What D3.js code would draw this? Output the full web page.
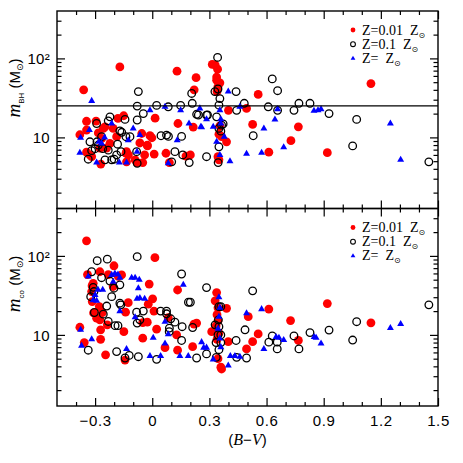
<!DOCTYPE html>
<html><head><meta charset="utf-8">
<script src="https://cdn.jsdelivr.net/npm/d3@7"></script>
<style>body{margin:0;background:#fff}svg{display:block}</style>
</head><body>
<svg id="c" width="463" height="463"></svg>
<script>
// ---- tick values ----
const xMajorTicks = [-0.3, 0, 0.3, 0.6, 0.9, 1.2, 1.5];
const xMinorTicks = [-0.4, -0.2, -0.1, 0.1, 0.2, 0.4, 0.5, 0.7, 0.8, 1.0, 1.1, 1.3, 1.4];
const yMajorTicks = [10, 100];
const yMinorTicks = [2, 3, 4, 5, 6, 7, 8, 9, 20, 30, 40, 50, 60, 70, 80, 90, 200, 300];
const bhLimit = 25;
const legendLabels = ["Z=0.01\u00a0\u00a0Z", "Z=0.1\u00a0\u00a0Z", "Z=\u00a0\u00a0Z"];

// ---- top panel: m_BH vs (B-V) ----  [B-V, mass]
const topZ001 = [[-0.36,40],[-0.17,78],[0.13,69],[0.23,57],[0.22,40],[0.315,84],[0.33,83],[0.343,73],[0.338,58],[0.355,49],[0.338,53],[0.345,44],[0.34,38],[0.40,22],[-0.345,16],[-0.38,10.8],[-0.15,18.8],[-0.18,17.4],[0.015,17.5],[0.135,15],[0.215,13.5],[-0.012,10.5],[-0.002,9.9],[-0.065,8.5],[-0.025,7.8],[0.01,6.15],[0.072,6.3],[0.09,4.8],[0.177,5.8],[0.2,6],[-0.05,4.8],[-0.138,6.3],[-0.125,6],[-0.27,4.6],[0.39,8.8],[0.364,10.2],[0.355,14],[0.345,5.7],[0.35,5.2],[-0.345,12.4],[-0.295,16.1],[-0.257,13],[-0.265,9.7],[-0.318,5.7],[-0.345,6.5],[-0.205,13],[-0.135,6.6],[-0.135,4.9],[-0.026,8],[-0.04,6],[-0.09,5.2],[-0.055,11.2],[-0.24,7.3],[-0.283,11.4],[-0.248,13.6],[-0.275,7.3],[-0.327,6],[-0.222,8.4],[-0.08,4.8],[-0.187,10.2],[0.495,23.3],[0.556,35],[0.527,14.6],[0.612,6.5],[0.728,9.1],[0.767,13.6],[0.919,6.4],[1.148,48],[0.35,11]];
const topZ01 = [[0.343,103],[-0.073,38],[-0.079,24.9],[-0.047,20],[0.023,25.4],[0.084,24.4],[0.149,25.4],[0.21,27],[0.207,36],[0.233,19.6],[0.285,19.1],[0.329,38],[0.345,41],[0.355,31],[0.35,25.6],[0.338,18.2],[0.364,14.3],[0.372,14.8],[0.35,13],[0.36,12],[0.35,7.6],[0.346,4.8],[0.285,5.7],[0.44,38],[0.443,22],[0.483,27],[0.154,10.3],[0.075,10.7],[0.085,10.3],[0.046,10.5],[0.119,6.6],[0.16,6],[0.194,4.8],[0.102,4.9],[-0.117,10.2],[-0.079,16.6],[-0.082,6.6],[-0.079,4.7],[-0.143,16.9],[-0.17,12.1],[-0.16,11.6],[-0.182,8.2],[-0.187,6],[-0.222,18.2],[-0.231,16.2],[-0.292,15],[-0.336,5.3],[-0.318,6.8],[-0.3,7.2],[-0.248,5.2],[-0.213,5.2],[-0.2,5.3],[-0.327,8.8],[-0.266,10.2],[-0.231,6.9],[-0.26,7.2],[-0.283,8],[-0.29,8.8],[-0.164,6.6],[-0.138,10.2],[0.63,55],[0.658,39],[0.609,24.4],[0.658,22],[0.744,22],[0.77,27],[0.828,27],[0.928,20],[0.53,10.5],[1.073,16.9],[1.052,7.8],[1.452,4.9],[0.242,19.2],[0.29,19.2]];
const topZ1 = [[-0.318,29],[-0.376,9.9],[-0.38,6.4],[-0.33,12.4],[-0.292,4.8],[-0.266,8.4],[-0.28,8.8],[-0.25,10],[-0.213,15],[-0.173,4.8],[-0.135,4.8],[-0.126,9.2],[-0.1,13],[-0.08,6.6],[-0.065,10.7],[-0.012,22],[0.067,24.4],[0.084,4.7],[0.131,9.2],[0.149,22],[0.193,15],[0.25,23.3],[0.259,13.4],[0.32,13.6],[0.338,8.8],[0.355,6],[0.408,5],[0.399,38],[0.36,15],[0.36,17],[0.355,22],[0.46,24.4],[0.495,6.2],[0.574,6.4],[0.586,13],[0.644,16.9],[0.658,22.8],[0.69,7.5],[0.849,21.7],[0.886,22.8],[0.87,22],[1.25,15],[1.304,5.2],[0.285,17],[0.255,13.6],[0.378,10.2]];

// ---- bottom panel: m_co vs (B-V) ----
const botZ001 = [[-0.345,155],[0.014,95],[-0.201,75],[-0.34,58],[-0.275,63],[-0.231,58],[-0.178,55],[-0.316,42],[-0.31,45],[-0.318,35.4],[-0.315,26.4],[-0.016,44],[0.133,37],[0.338,34.3],[0.39,21.7],[0.002,28.6],[-0.021,24.5],[0.009,20],[-0.126,25.6],[-0.14,19.4],[-0.278,22.8],[-0.308,19],[-0.262,19.2],[-0.292,16.3],[-0.275,15.5],[-0.236,13.4],[-0.271,11.6],[-0.38,12.5],[-0.357,8],[-0.271,8.8],[-0.245,5.6],[-0.149,11],[-0.143,4.8],[-0.05,9.1],[0.023,11.8],[-0.026,14.5],[-0.05,14.3],[0.084,16.5],[0.067,6.9],[0.133,6.4],[0.128,10],[0.219,13.7],[0.212,7.1],[0.364,3.7],[0.36,3.9],[0.312,11],[0.399,8.2],[0.495,6.65],[0.504,17],[0.233,14.1],[0.345,5],[0.33,27],[0.345,22],[0.34,18],[0.345,15],[0.335,13],[0.35,10.5],[0.34,8.8],[-0.161,57.5],[-0.205,41],[0.527,8.2],[0.556,10.3],[0.612,21.2],[0.726,15.2],[0.767,8.5],[0.919,24.9],[1.148,14.2]];
const botZ01 = [[-0.079,97.8],[-0.236,91],[-0.289,87],[-0.318,63],[-0.266,53],[-0.31,40],[-0.306,35.4],[-0.323,30.5],[-0.304,19.2],[-0.257,18.3],[-0.239,23.2],[-0.231,14.8],[-0.195,13.1],[-0.18,13.1],[-0.213,30.5],[-0.17,25.2],[-0.165,24],[-0.17,43],[-0.201,39],[-0.222,48],[-0.187,6.15],[-0.143,5.1],[-0.121,5.5],[-0.073,5.3],[-0.336,6.4],[-0.082,19.4],[-0.079,14.1],[-0.047,20],[-0.065,15.5],[0.023,4.9],[0.044,20],[0.075,20],[0.075,18.5],[0.097,16],[0.119,14.5],[0.09,12.2],[0.089,11],[0.154,8.5],[0.157,12.7],[0.19,25.9],[0.2,25.9],[0.154,59],[0.285,39.7],[0.212,12.4],[0.233,5.1],[0.285,5.75],[0.35,22.8],[0.36,22.8],[0.347,15.5],[0.33,13.4],[0.35,12.7],[0.345,10],[0.36,10],[0.335,8],[0.36,8],[0.35,6.5],[0.336,5.2],[0.44,8.5],[0.443,5.2],[0.487,11.6],[0.495,5.1],[0.527,36.1],[0.612,8.1],[0.63,9.7],[0.656,8.1],[0.656,6.65],[0.744,9.7],[0.77,6.65],[0.828,10.7],[0.928,11.5],[1.052,8.6],[1.073,14.7],[1.452,24]];
const botZ1 = [[-0.376,11.6],[-0.371,7.3],[-0.318,8.8],[-0.336,55],[-0.292,27],[-0.26,37.2],[-0.213,57.5],[-0.196,60],[-0.18,58],[-0.17,53],[-0.108,53],[-0.09,53],[-0.068,50],[-0.073,39],[-0.065,29.4],[-0.08,28.6],[-0.04,28.6],[-0.205,47],[-0.3,32],[-0.31,27.5],[-0.17,20],[-0.09,16.7],[-0.135,6.65],[-0.012,5.4],[0.044,5.4],[0.005,9.2],[0.067,14.7],[0.067,7.8],[0.084,10.2],[0.145,5.4],[0.189,5.4],[0.163,43],[0.259,8.1],[0.27,6.9],[0.285,6.9],[0.32,4.9],[0.35,30],[0.355,22],[0.35,17],[0.345,12],[0.355,9],[0.36,7],[0.399,4.1],[0.495,18.8],[0.434,5.4],[0.41,5.4],[0.574,21.2],[0.586,6.65],[0.65,9.4],[0.665,9.2],[0.69,8.6],[0.85,9.4],[0.86,9.2],[0.886,7.8],[1.25,12.2],[1.304,13.7],[0.46,5.3],[-0.285,37.2]];

// ---- layout ----
const L = 57, R = 438, T = 11, MID = 208.5, B = 406;
const svg = d3.select("#c");
svg.append("rect").attr("width", 463).attr("height", 463).attr("fill", "#fff");

const x = d3.scaleLinear().domain([-0.5, 1.5]).range([L, R]);
const yDom = [Math.pow(10, 0.1), Math.pow(10, 2.6)];
const SANS = "'Liberation Sans', Arial, sans-serif";
const SERIF = "'Liberation Serif', 'Times New Roman', serif";

function panel(top, bottom, data, sub, showXLabels, titleY) {
  const y = d3.scaleLog().domain(yDom).range([bottom, top]);
  const g = svg.append("g");

  // points
  const [d001, d01, d1] = data;
  g.append("g").selectAll("circle").data(d001).join("circle")
    .attr("cx", d => x(d[0])).attr("cy", d => y(d[1])).attr("r", 4.4).attr("fill", "#ff0000");
  g.append("g").selectAll("circle").data(d01).join("circle")
    .attr("cx", d => x(d[0])).attr("cy", d => y(d[1])).attr("r", 3.8)
    .attr("fill", "none").attr("stroke", "#000").attr("stroke-width", 1.3);
  const tri = d3.symbol().type(d3.symbolTriangle).size(21);
  g.append("g").selectAll("path").data(d1).join("path")
    .attr("d", tri).attr("transform", d => `translate(${x(d[0])},${y(d[1])})`).attr("fill", "#0000ff");

  // axes (inward ticks on four sides)
  const axes = g.append("g");
  const add = (axis, tx, ty) => {
    const a = axes.append("g").attr("transform", `translate(${tx},${ty})`).call(axis);
    a.select(".domain").remove();
    a.selectAll("line").attr("stroke", "#000").attr("stroke-width", 1.2);
    return a;
  };
  add(d3.axisBottom(x).tickValues(xMinorTicks).tickSize(-4).tickFormat(""), 0, bottom);
  add(d3.axisTop(x).tickValues(xMinorTicks).tickSize(-4).tickFormat(""), 0, top);
  add(d3.axisTop(x).tickValues(xMajorTicks).tickSize(-8).tickFormat(""), 0, top);
  const xb = add(d3.axisBottom(x).tickValues(xMajorTicks).tickSize(-8)
      .tickFormat(showXLabels ? (d => d === 0 ? "0" : d3.format(".1f")(d)) : ""), 0, bottom);
  xb.selectAll("text").attr("y", 19.5).attr("dy", null)
    .attr("font-family", SANS).attr("font-size", 15).attr("fill", "#000").attr("letter-spacing", 0.6);

  add(d3.axisLeft(y).tickValues(yMinorTicks).tickSize(-4.5).tickFormat(""), L, 0);
  add(d3.axisRight(y).tickValues(yMinorTicks).tickSize(-4.5).tickFormat(""), R, 0);
  add(d3.axisRight(y).tickValues(yMajorTicks).tickSize(-8).tickFormat(""), R, 0);
  const yl = add(d3.axisLeft(y).tickValues(yMajorTicks).tickSize(-8)
      .tickFormat(d => d === 100 ? "10²" : "10"), L, 0);
  yl.selectAll("text").attr("x", -7).attr("dy", "0.35em")
    .attr("font-family", SANS).attr("font-size", 15).attr("fill", "#000").attr("letter-spacing", 0.3);

  // frame
  g.append("rect").attr("x", L).attr("y", top).attr("width", R - L).attr("height", bottom - top)
    .attr("fill", "none").attr("stroke", "#000").attr("stroke-width", 1.4);

  // y title
  const t = g.append("text").attr("transform", `translate(20,${titleY}) rotate(-90)`)
    .attr("text-anchor", "middle").attr("font-family", SANS).attr("font-size", 15).attr("fill", "#000");
  t.append("tspan").attr("font-family", SERIF).attr("font-style", "italic").attr("font-size", 19).text("m");
  t.append("tspan").attr("font-size", 8).attr("dy", 4).text(sub);
  t.append("tspan").attr("dy", -4).text("\u00a0(M");
  t.append("tspan").attr("font-family", "'DejaVu Sans'").attr("font-size", 9).attr("dy", 3).text("⊙");
  t.append("tspan").attr("dy", -3).text(")");

  // legend
  const lg = g.append("g").attr("transform", `translate(353,${top + 19})`);
  const rows = [0, 14.2, 28.4];
  lg.append("circle").attr("cx", 0).attr("cy", rows[0]).attr("r", 2.4).attr("fill", "#ff0000");
  lg.append("circle").attr("cx", 0).attr("cy", rows[1]).attr("r", 2.4).attr("fill", "none")
    .attr("stroke", "#000").attr("stroke-width", 1.1);
  lg.append("path").attr("d", d3.symbol().type(d3.symbolTriangle).size(10))
    .attr("transform", `translate(0,${rows[2]})`).attr("fill", "#0000ff");
  legendLabels.forEach((lab, i) => {
    const tx = lg.append("text").attr("x", 9).attr("y", rows[i] + 4.5)
      .attr("font-family", SERIF).attr("font-size", 14).attr("fill", "#000");
    tx.append("tspan").text(lab);
    tx.append("tspan").attr("font-family", "'DejaVu Sans'").attr("font-size", 8).attr("dy", 3).text("⊙");
  });
  return y;
}

const yTop = panel(T, MID, [topZ001, topZ01, topZ1], "BH", false, 88);
// black-hole mass limit line
svg.append("line").attr("x1", L).attr("x2", R).attr("y1", yTop(bhLimit)).attr("y2", yTop(bhLimit))
  .attr("stroke", "#000").attr("stroke-width", 1.3);
panel(MID, B, [botZ001, botZ01, botZ1], "co", true, 284);

// x title
const xt = svg.append("text").attr("x", (L + R) / 2).attr("y", 445).attr("text-anchor", "middle")
  .attr("font-family", SANS).attr("font-size", 15).attr("fill", "#000");
xt.append("tspan").text("(");
xt.append("tspan").attr("font-family", SERIF).attr("font-style", "italic").attr("font-size", 16).text("B");
xt.append("tspan").text("−");
xt.append("tspan").attr("font-family", SERIF).attr("font-style", "italic").attr("font-size", 16).text("V");
xt.append("tspan").text(")");
</script>
</body></html>
